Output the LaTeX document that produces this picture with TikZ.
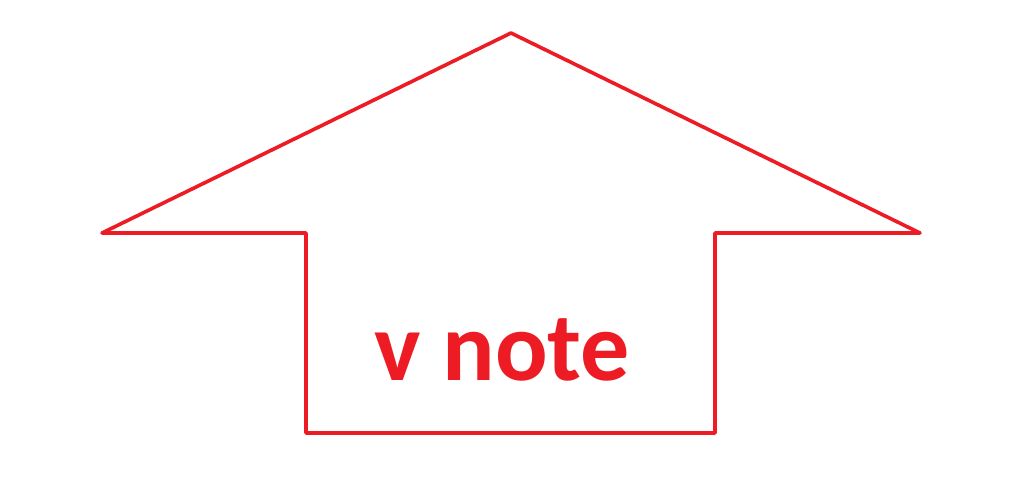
\documentclass[tikz,border=0pt]{standalone}
\usepackage{fontspec}
\setmainfont{Carlito}
\definecolor{paintred}{RGB}{237,28,36}
\begin{document}
\begin{tikzpicture}[x=1pt,y=-1pt]
      \useasboundingbox (0,0) rectangle (1024,500);
      \draw[paintred,line width=3.6pt,line join=round]
         (511,33) -- (920,233) -- (715,233) -- (715,433)
         -- (306,433) -- (306,233) -- (102,233) -- cycle;
      \node[paintred,font=\fontsize{98}{98}\selectfont\bfseries,anchor=base] (label) at (502,380) {v note};
   \end{tikzpicture}
\end{document}
